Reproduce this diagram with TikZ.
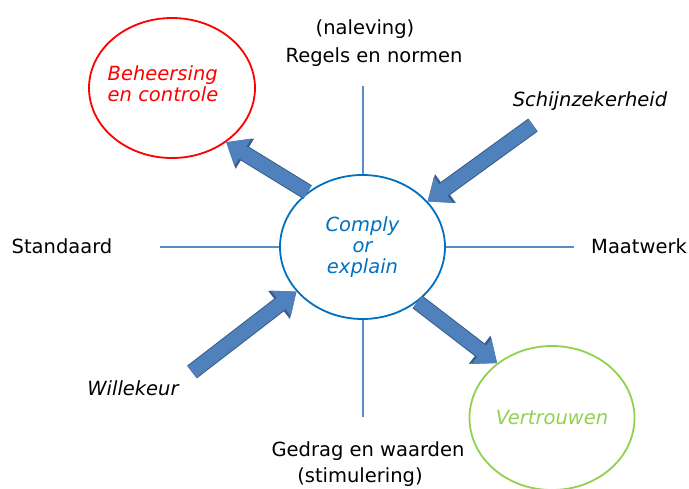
\documentclass[tikz,border=0pt]{standalone}
\usepackage{fontspec}
\setmainfont{DejaVu Sans}
\usepackage{xcolor}
\definecolor{controlred}{RGB}{255, 0, 0}
\definecolor{complyblue}{RGB}{0, 112, 192}
\definecolor{spokeblue}{RGB}{91, 140, 200}
\definecolor{trustgreen}{RGB}{146, 208, 80}
\definecolor{arrowfill}{RGB}{79, 129, 189}
\definecolor{arrowedge}{RGB}{56, 93, 138}
\usepackage{tikz}
\usetikzlibrary{arrows.meta, shapes.geometric}

\begin{document}
\begin{tikzpicture}[x=1pt, y=-1pt,
    txt/.style={font=\fontsize{19.5}{21}\selectfont},
    circ/.style={ellipse, draw, line width=1.8pt, inner sep=0pt, txt, align=center},
    spoke/.style={draw=spokeblue, line width=2pt},
    blockarrow/.style={draw=arrowfill, line width=14pt, -{Triangle[width=31pt, length=19.5pt]},
        preaction={draw=arrowedge, line width=16pt, -{Triangle[width=34pt, length=22pt]}}}]
    \useasboundingbox (0,0) rectangle (689,488);

    % circles
    \node[circ, draw=complyblue, text=complyblue, minimum width=165pt, minimum height=144pt]
        (comply) at (362.5,247) {\itshape Comply\\\itshape or\\\itshape explain};
    \node[circ, draw=controlred, minimum width=166pt, minimum height=140pt]
        (beheersing) at (172,88) {};
    \node[txt, text=controlred, align=left] (beheersingtxt) at (163,84)
        {\itshape Beheersing\\\itshape en controle};
    \node[circ, draw=trustgreen, text=trustgreen, minimum width=165pt, minimum height=144pt]
        (vertrouwen) at (552,418) {\itshape Vertrouwen};

    % axis labels
    \node[txt] (naleving) at (365,29) {(naleving)};
    \node[txt] (regels) at (374,57) {Regels en normen};
    \node[txt] (standaard) at (62,246) {Standaard};
    \node[txt] (maatwerk) at (639,246) {Maatwerk};
    \node[txt] (gedrag) at (368,451) {Gedrag en waarden};
    \node[txt] (stimulering) at (360,477) {(stimulering)};
    \node[txt, font=\fontsize{19.5}{21}\selectfont\itshape] (schijn) at (590,101) {Schijnzekerheid};
    \node[txt, font=\fontsize{19.5}{21}\selectfont\itshape] (willekeur) at (133,388) {Willekeur};

    % spokes
    \coordinate (top) at (362.5,86);
    \coordinate (bottom) at (362.5,417);
    \coordinate (left) at (160,247);
    \coordinate (right) at (574,247);
    \draw[spoke] (comply.north) -- (top);
    \draw[spoke] (comply.south) -- (bottom);
    \draw[spoke] (comply.west) -- (left);
    \draw[spoke] (comply.east) -- (right);

    % block arrows
    \coordinate (schijntail) at (533,125);
    \coordinate (willetail) at (192,372);
    \draw[blockarrow] (comply.135) -- (beheersing.-45);
    \draw[blockarrow] (comply.-45) -- (vertrouwen.135);
    \draw[blockarrow] (schijntail) -- (comply.35);
    \draw[blockarrow] (willetail) -- (comply.214);
\end{tikzpicture}
\end{document}
